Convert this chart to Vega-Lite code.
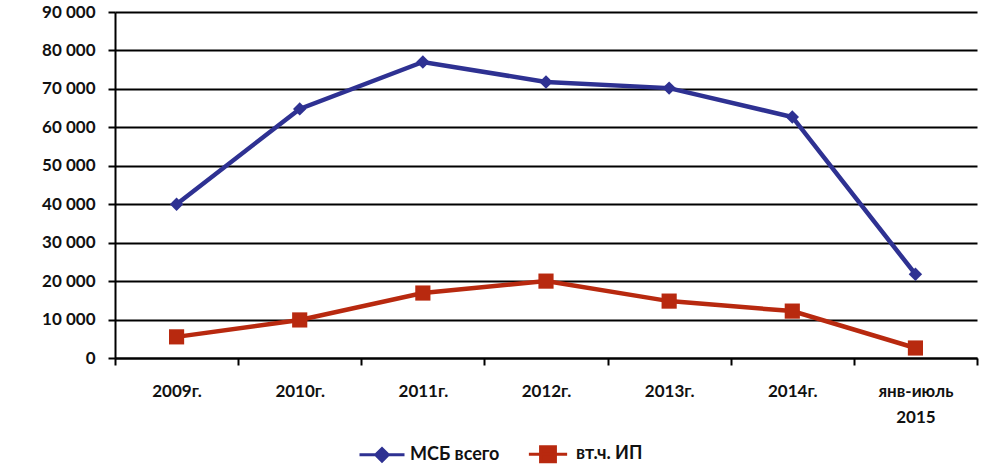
{
  "$schema": "https://vega.github.io/schema/vega-lite/v6.json",
  "width": 862,
  "height": 346,
  "autosize": {"type": "none"},
  "padding": {"left": 115, "top": 12, "right": 27, "bottom": 116},
  "background": "white",
  "config": {
    "view": {"stroke": null},
    "locale": {"number": {"decimal": ",", "thousands": " ", "grouping": [3], "currency": ["", ""]}},
    "axis": {"labelFont": "Lato", "labelFontWeight": "bold", "labelFontSize": 17, "labelColor": "#111111"},
    "legend": {"labelFont": "Lato", "labelFontWeight": "bold", "labelFontSize": 18, "labelColor": "#111111"}
  },
  "data": {
    "values": [
      {"year": "2009г.", "series": "МСБ всего", "value": 40000},
      {"year": "2010г.", "series": "МСБ всего", "value": 64800},
      {"year": "2011г.", "series": "МСБ всего", "value": 77000},
      {"year": "2012г.", "series": "МСБ всего", "value": 71800},
      {"year": "2013г.", "series": "МСБ всего", "value": 70200},
      {"year": "2014г.", "series": "МСБ всего", "value": 62700},
      {"year": "янв-июль 2015", "series": "МСБ всего", "value": 21800},
      {"year": "2009г.", "series": "вт.ч. ИП", "value": 5500},
      {"year": "2010г.", "series": "вт.ч. ИП", "value": 9900},
      {"year": "2011г.", "series": "вт.ч. ИП", "value": 16900},
      {"year": "2012г.", "series": "вт.ч. ИП", "value": 20000},
      {"year": "2013г.", "series": "вт.ч. ИП", "value": 14800},
      {"year": "2014г.", "series": "вт.ч. ИП", "value": 12200},
      {"year": "янв-июль 2015", "series": "вт.ч. ИП", "value": 2600}
    ]
  },
  "encoding": {
    "x": {
      "field": "year", "type": "nominal", "sort": null,
      "scale": {"type": "band", "paddingInner": 0, "paddingOuter": 0},
      "axis": {
        "title": null, "labelAngle": 0, "grid": false,
        "tickBand": "extent", "tickSize": 7, "tickColor": "#000000", "tickWidth": 2,
        "domainColor": "#000000", "domainWidth": 2,
        "labelPadding": 26, "labelLineHeight": 26, "labelBaseline": "middle",
        "labelExpr": "datum.value == 'янв-июль 2015' ? ['янв-июль', '2015'] : datum.value"
      }
    },
    "y": {
      "field": "value", "type": "quantitative",
      "scale": {"domain": [0, 90000], "nice": false},
      "axis": {
        "title": null, "values": [0, 10000, 20000, 30000, 40000, 50000, 60000, 70000, 80000, 90000],
        "format": ",d", "grid": true, "gridColor": "#000000", "gridWidth": 2, "gridOpacity": 1,
        "tickSize": 7, "tickColor": "#000000", "tickWidth": 2,
        "domainColor": "#000000", "domainWidth": 2, "labelPadding": 13
      }
    },
    "color": {
      "field": "series", "type": "nominal", "sort": null,
      "scale": {"domain": ["МСБ всего", "вт.ч. ИП"], "range": ["#2E3192", "#B8290F"]},
      "legend": {
        "title": null, "orient": "none", "direction": "horizontal",
        "legendX": 243, "legendY": 418, "padding": 0,
        "symbolSize": 2025, "symbolStrokeWidth": 3, "labelOffset": 4, "columnPadding": 22,
        "encode": {
          "symbols": {
            "update": {
              "shape": {"signal": "datum.value == 'МСБ всего' ? 'M-1,0L1,0M-0.28,0L0,-0.28L0.28,0L0,0.28Z' : 'M-0.85,0L0.85,0M-0.33,-0.33L0.33,-0.33L0.33,0.33L-0.33,0.33Z'"},
              "size": {"value": 2025},
              "fill": {"scale": "color", "field": "value"},
              "stroke": {"scale": "color", "field": "value"},
              "fillOpacity": {"value": 1},
              "strokeOpacity": {"value": 1},
              "opacity": {"value": 1},
              "strokeWidth": {"value": 3}
            }
          }
        }
      }
    }
  },
  "layer": [
    {"mark": {"type": "line", "strokeWidth": 4.5}},
    {
      "transform": [{"filter": "datum.series == 'МСБ всего'"}],
      "mark": {"type": "point", "shape": "diamond", "filled": true, "opacity": 1, "size": 180}
    },
    {
      "transform": [{"filter": "datum.series == 'вт.ч. ИП'"}],
      "mark": {"type": "point", "shape": "square", "filled": true, "opacity": 1, "size": 230}
    }
  ]
}
